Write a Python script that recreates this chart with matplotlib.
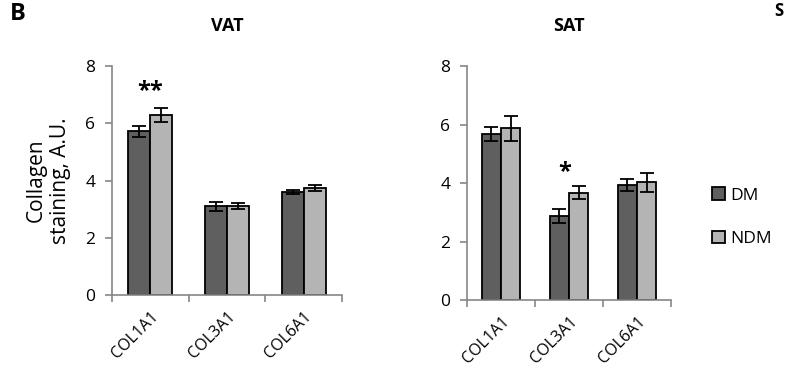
import numpy as np
import matplotlib
matplotlib.use("Agg")
import matplotlib.pyplot as plt

plt.rcParams['font.family'] = ['Open Sans', 'DejaVu Sans']

genes = ['COL1A1', 'COL3A1', 'COL6A1']

vat_dm = [5.72, 3.10, 3.60]
vat_dm_err = [0.20, 0.15, 0.07]
vat_ndm = [6.29, 3.10, 3.75]
vat_ndm_err = [0.23, 0.10, 0.10]

sat_dm = [5.67, 2.87, 3.93]
sat_dm_err = [0.23, 0.24, 0.20]
sat_ndm = [5.87, 3.67, 4.03]
sat_ndm_err = [0.43, 0.22, 0.32]

dm_color = '#5f5f5f'
ndm_color = '#b4b4b4'
axis_gray = '#868686'

fig = plt.figure(figsize=(7.87, 3.81), dpi=100)
ax1 = fig.add_axes([0.1423, 0.2257, 0.2923, 0.601])
ax2 = fig.add_axes([0.5934, 0.2126, 0.2592, 0.614])


def draw_panel(ax, dm, dm_err, ndm, ndm_err, title, width):
    x = np.arange(len(genes))
    ekw = dict(elinewidth=1.3, capsize=5, capthick=1.3, ecolor='black')
    ax.bar(x - width / 2, dm, width, yerr=dm_err, color=dm_color,
           edgecolor='black', linewidth=1.3, error_kw=ekw, label='DM')
    ax.bar(x + width / 2, ndm, width, yerr=ndm_err, color=ndm_color,
           edgecolor='black', linewidth=1.3, error_kw=ekw, label='NDM')
    ax.set_xlim(-0.5, len(genes) - 0.5)
    ax.set_ylim(0, 8)
    ax.set_yticks([0, 2, 4, 6, 8])
    ax.set_xticks(x)
    ax.set_xticklabels(genes, rotation=45, ha='right', rotation_mode='anchor',
                       fontsize=11.5)
    ax.set_xticks(np.arange(len(genes) + 1) - 0.5, minor=True)
    ax.tick_params(axis='x', which='major', length=0, pad=10)
    ax.tick_params(axis='x', which='minor', length=5, color=axis_gray,
                   width=1.2)
    ax.tick_params(axis='y', length=5, color=axis_gray, width=1.2,
                   labelsize=12.5, pad=7)
    for s in ['top', 'right']:
        ax.spines[s].set_visible(False)
    for s in ['left', 'bottom']:
        ax.spines[s].set_color(axis_gray)
        ax.spines[s].set_linewidth(1.2)
    ax.set_title(title, fontsize=13, fontweight='bold', pad=25)


draw_panel(ax1, vat_dm, vat_dm_err, vat_ndm, vat_ndm_err, 'VAT', 0.285)
draw_panel(ax2, sat_dm, sat_dm_err, sat_ndm, sat_ndm_err, 'SAT', 0.28)

ax1.text(0, 6.7, '**', ha='center', va='bottom', fontsize=17,
         fontweight='bold')
ax2.text(0.93, 3.95, '*', ha='center', va='bottom', fontsize=17,
         fontweight='bold')

ax1.set_ylabel('Collagen\nstaining, A.U.', fontsize=15, labelpad=10,
               linespacing=1.2)

handles, labels = ax2.get_legend_handles_labels()
fig.legend(handles, labels, loc='center left', bbox_to_anchor=(0.885, 0.43),
           frameon=False, fontsize=12.5, handlelength=0.75, handleheight=0.75,
           handletextpad=0.3, labelspacing=1.55)

fig.text(0.012, 0.995, 'B', fontsize=17, fontweight='bold', va='top')
fig.text(0.995, 0.995, 'S', fontsize=12, fontweight='bold', va='top',
         ha='right')

fig.savefig('out.png', dpi=100)
